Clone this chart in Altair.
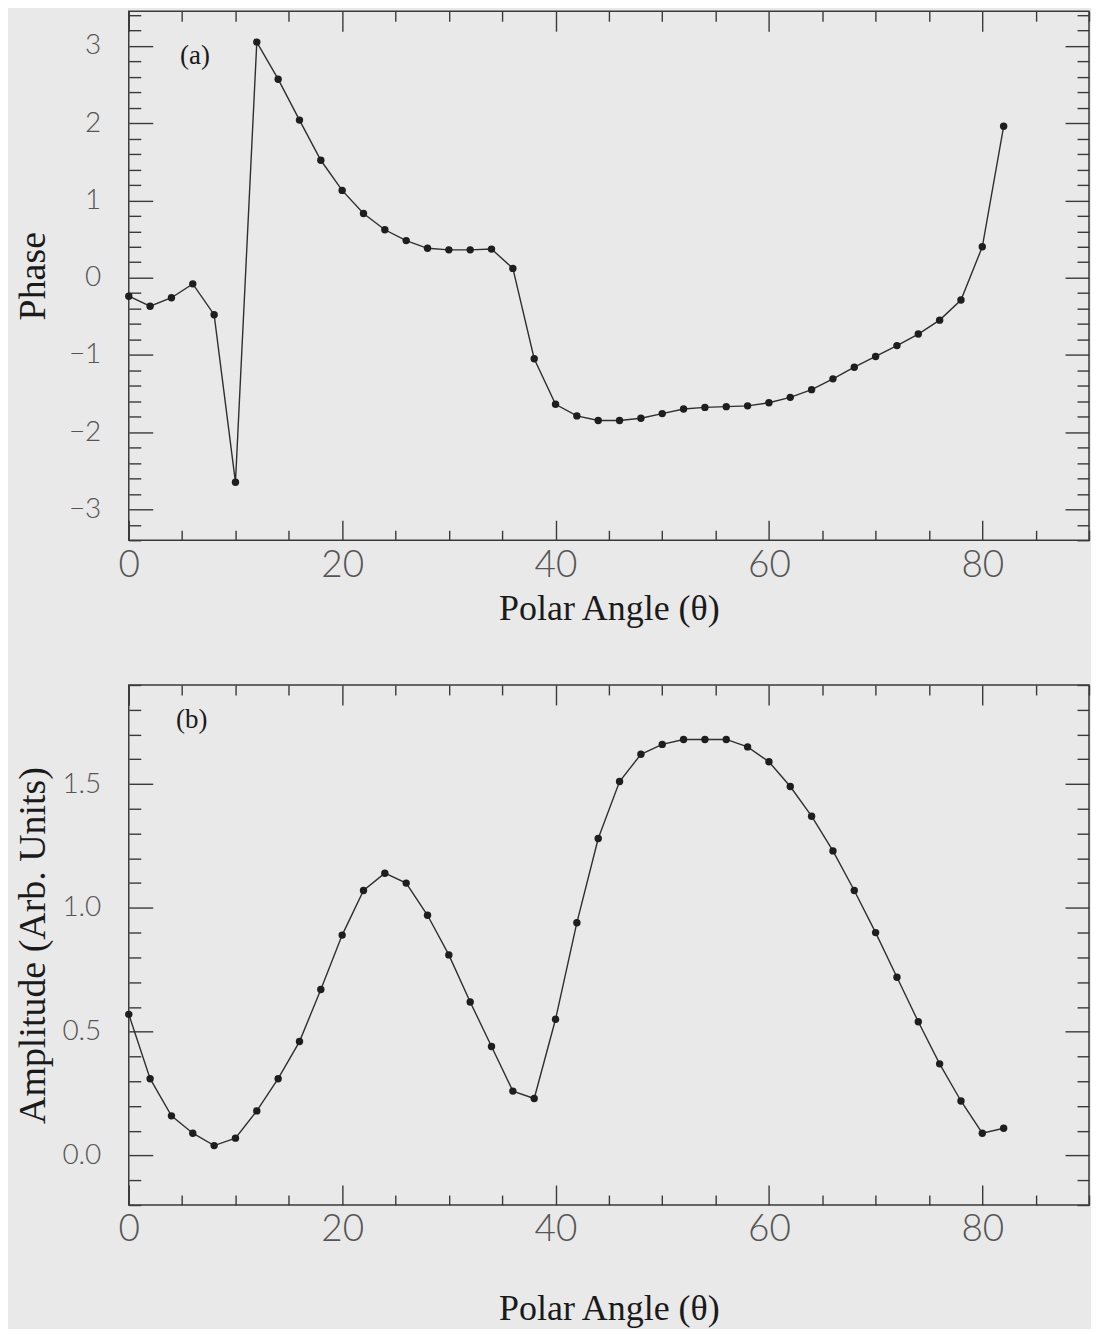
import altair as alt
import pandas as pd

# ---------------- data ----------------
angles = [0, 2, 4, 6, 8, 10, 12, 14, 16, 18, 20, 22, 24, 26, 28, 30, 32, 34, 36, 38, 40,
          42, 44, 46, 48, 50, 52, 54, 56, 58, 60, 62, 64, 66, 68, 70, 72, 74, 76, 78, 80, 82]
phase = [-0.24, -0.37, -0.26, -0.08, -0.48, -2.65, 3.05, 2.57, 2.04, 1.52, 1.13, 0.83,
         0.62, 0.48, 0.38, 0.36, 0.36, 0.37, 0.12, -1.05, -1.64, -1.79, -1.85, -1.85,
         -1.82, -1.76, -1.70, -1.68, -1.67, -1.66, -1.62, -1.55, -1.45, -1.31, -1.16,
         -1.02, -0.88, -0.73, -0.55, -0.29, 0.40, 1.96]
amplitude = [0.57, 0.31, 0.16, 0.09, 0.04, 0.07, 0.18, 0.31, 0.46, 0.67, 0.89, 1.07,
             1.14, 1.10, 0.97, 0.81, 0.62, 0.44, 0.26, 0.23, 0.55, 0.94, 1.28, 1.51,
             1.62, 1.66, 1.68, 1.68, 1.68, 1.65, 1.59, 1.49, 1.37, 1.23, 1.07, 0.90,
             0.72, 0.54, 0.37, 0.22, 0.09, 0.11]

x_label_values = [0, 20, 40, 60, 80]
x_tick_values = [0, 5, 10, 15, 20, 25, 30, 35, 40, 45, 50, 55, 60, 65, 70, 75, 80, 85, 90]
phase_label_values = [-3, -2, -1, 0, 1, 2, 3]
phase_tick_values = [-3.4, -3.2, -3.0, -2.8, -2.6, -2.4, -2.2, -2.0, -1.8, -1.6, -1.4, -1.2,
                     -1.0, -0.8, -0.6, -0.4, -0.2, 0.0, 0.2, 0.4, 0.6, 0.8, 1.0, 1.2, 1.4,
                     1.6, 1.8, 2.0, 2.2, 2.4, 2.6, 2.8, 3.0, 3.2, 3.4]
amp_label_values = [0.0, 0.5, 1.0, 1.5]
amp_tick_values = [-0.2, -0.1, 0.0, 0.1, 0.2, 0.3, 0.4, 0.5, 0.6, 0.7, 0.8, 0.9, 1.0,
                   1.1, 1.2, 1.3, 1.4, 1.5, 1.6, 1.7, 1.8, 1.9]

df = pd.DataFrame({"angle": angles, "phase": phase, "amplitude": amplitude})

W = 962
LABEL_FONT = "Lato"
SERIF = "Liberation Serif"
INK = "#2f2f2f"
TICK_COLOR = "#3a3a3a"


def panel(ycol, ydomain, ylabels, yticks, ymajor_test, yformat, H, ytitle,
          xtitle_pad, tag, tag_x, tag_y):
    xs = alt.Scale(domain=[0, 90], nice=False, zero=False)
    ys = alt.Scale(domain=ydomain, nice=False, zero=False)

    x_tick_size = {"condition": {"test": "datum.value % 20 === 0", "value": 20}, "value": 10}
    y_tick_size = {"condition": {"test": ymajor_test, "value": 24}, "value": 12}

    tick_common = dict(labels=False, domain=False, grid=False, ticks=True,
                       tickColor=TICK_COLOR, tickWidth=1.4, title=None)

    # layer with labels / titles (no ticks)
    line = alt.Chart(df).mark_line(color=INK, strokeWidth=1.4).encode(
        x=alt.X("angle:Q", scale=xs, axis=alt.Axis(
            orient="bottom", values=x_label_values, ticks=False, tickSize=0,
            domain=False, grid=False, labelFont=LABEL_FONT, labelFontSize=37,
            labelFontWeight=300, labelColor="#555555", labelPadding=7,
            labelFlush=False, title="Polar Angle (θ)", titleFont=SERIF,
            titleFontSize=36, titleFontWeight="normal", titleColor="#1a1a1a",
            titlePadding=xtitle_pad)),
        y=alt.Y(f"{ycol}:Q", scale=ys, axis=alt.Axis(
            orient="left", values=ylabels, format=yformat, ticks=False, tickSize=0,
            domain=False, grid=False, labelFont=LABEL_FONT, labelFontSize=28,
            labelFontWeight=300, labelColor="#555555", labelPadding=28,
            labelFlush=False, minExtent=74, maxExtent=74, title=ytitle,
            titleFont=SERIF, titleFontSize=38, titleFontWeight="normal",
            titleColor="#1a1a1a", titlePadding=2)),
    )

    # points + inward ticks on bottom and left edges
    pts = alt.Chart(df).mark_point(filled=True, size=55, color="#1e1e1e", opacity=1).encode(
        x=alt.X("angle:Q", scale=xs, axis=alt.Axis(
            orient="top", offset=-H, values=x_tick_values, tickSize=x_tick_size,
            **tick_common)),
        y=alt.Y(f"{ycol}:Q", scale=ys, axis=alt.Axis(
            orient="right", offset=-W, values=yticks, tickSize=y_tick_size,
            **tick_common)),
    )

    # invisible copy carrying inward ticks on top and right edges
    ghost = alt.Chart(df).mark_point(opacity=0).encode(
        x=alt.X("angle:Q", scale=xs, axis=alt.Axis(
            orient="bottom", offset=-H, values=x_tick_values, tickSize=x_tick_size,
            **tick_common)),
        y=alt.Y(f"{ycol}:Q", scale=ys, axis=alt.Axis(
            orient="left", offset=-W, values=yticks, tickSize=y_tick_size,
            **tick_common)),
    )

    tag_df = pd.DataFrame({"t": [tag], "x": [tag_x], "y": [tag_y]})
    tag_mark = alt.Chart(tag_df).mark_text(
        font=SERIF, fontSize=27, color="#1a1a1a").encode(
        x=alt.X("x:Q", scale=xs, axis=None),
        y=alt.Y("y:Q", scale=ys, axis=None),
        text="t:N",
    )

    return alt.layer(line, pts, ghost, tag_mark).resolve_axis(
        x="independent", y="independent").properties(width=W, height=H)


top = panel("phase", [-3.4, 3.45], phase_label_values, phase_tick_values,
            "abs(datum.value - round(datum.value)) < 0.001", "d", 530, "Phase",
            8, "(a)", 6.2, 2.87)
bottom = panel("amplitude", [-0.2, 1.9], amp_label_values, amp_tick_values,
               "abs(datum.value * 2 - round(datum.value * 2)) < 0.001", ".1f", 521,
               "Amplitude (Arb. Units)", 44, "(b)", 5.9, 1.76)

chart = alt.vconcat(top, bottom, spacing=56).properties(
    padding={"left": 6, "top": 0, "right": 0, "bottom": 0}
).configure(background="#e9e9e9").configure_view(stroke="#3a3a3a", strokeWidth=1.5)

chart.save("out.html", embed_options={"renderer": "svg", "actions": False})
